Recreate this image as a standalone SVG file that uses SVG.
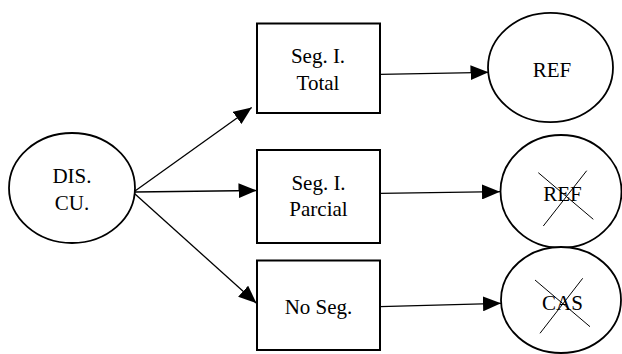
<svg xmlns="http://www.w3.org/2000/svg" width="622" height="354" viewBox="0 0 622 354">
<style>
.node{fill:#fff;stroke:#000;stroke-width:1.8}
.box{fill:#fff;stroke:#000;stroke-width:2}
.lbl{font-family:"Liberation Serif","Times New Roman",serif;font-size:21px;fill:#000;text-anchor:middle}
.conn{stroke:#000;stroke-width:1.3;fill:none;marker-end:url(#ah)}
.x{stroke:#000;stroke-width:1}
</style>
<defs>
<marker id="ah" markerUnits="userSpaceOnUse" markerWidth="18" markerHeight="15" refX="18" refY="7.5" orient="auto" viewBox="0 0 18 15">
<path d="M0,0 L18,7.5 L0,15 z" fill="#000"/>
</marker>
</defs>
<rect width="622" height="354" fill="#fff"/>
<g id="connectors">
<line class="conn" x1="135" y1="191" x2="251.7" y2="107.5"/>
<line class="conn" x1="135" y1="192" x2="256.5" y2="190.5"/>
<line class="conn" x1="135" y1="194" x2="256.5" y2="303.3"/>
<line class="conn" x1="380" y1="74.3" x2="488.5" y2="72.3"/>
<line class="conn" x1="380" y1="193.3" x2="500" y2="191.7"/>
<line class="conn" x1="380" y1="306.7" x2="501" y2="303.3"/>
</g>
<g id="dis">
<ellipse class="node" cx="72" cy="188" rx="63" ry="55"/>
<text class="lbl" x="72" y="183">DIS.</text>
<text class="lbl" x="72" y="210">CU.</text>
</g>
<g id="seg-total">
<rect class="box" x="257" y="23.5" width="123" height="89.5"/>
<text class="lbl" x="318" y="63">Seg. I.</text>
<text class="lbl" x="318" y="89.5">Total</text>
</g>
<g id="seg-parcial">
<rect class="box" x="257" y="150" width="123" height="93"/>
<text class="lbl" x="318.5" y="190">Seg. I.</text>
<text class="lbl" x="318.5" y="216">Parcial</text>
</g>
<g id="no-seg">
<rect class="box" x="257" y="260.5" width="123" height="89.5"/>
<text class="lbl" x="318.5" y="314.3">No Seg.</text>
</g>
<g id="ref1">
<ellipse class="node" cx="550.5" cy="67.5" rx="62.5" ry="54.7"/>
<text class="lbl" x="552" y="76.7">REF</text>
</g>
<g id="ref2">
<ellipse class="node" cx="561" cy="191.5" rx="60.5" ry="56.5"/>
<text class="lbl" x="562.5" y="201">REF</text>
<line class="x" x1="538.3" y1="172.7" x2="593.3" y2="219.3"/>
<line class="x" x1="586.7" y1="170.7" x2="543.3" y2="226"/>
</g>
<g id="cas">
<ellipse class="node" cx="561" cy="300" rx="60" ry="53"/>
<text class="lbl" x="562.5" y="310">CAS</text>
<line class="x" x1="535" y1="280" x2="590" y2="326.7"/>
<line class="x" x1="582.7" y1="278.3" x2="540" y2="333.3"/>
</g>
</svg>
